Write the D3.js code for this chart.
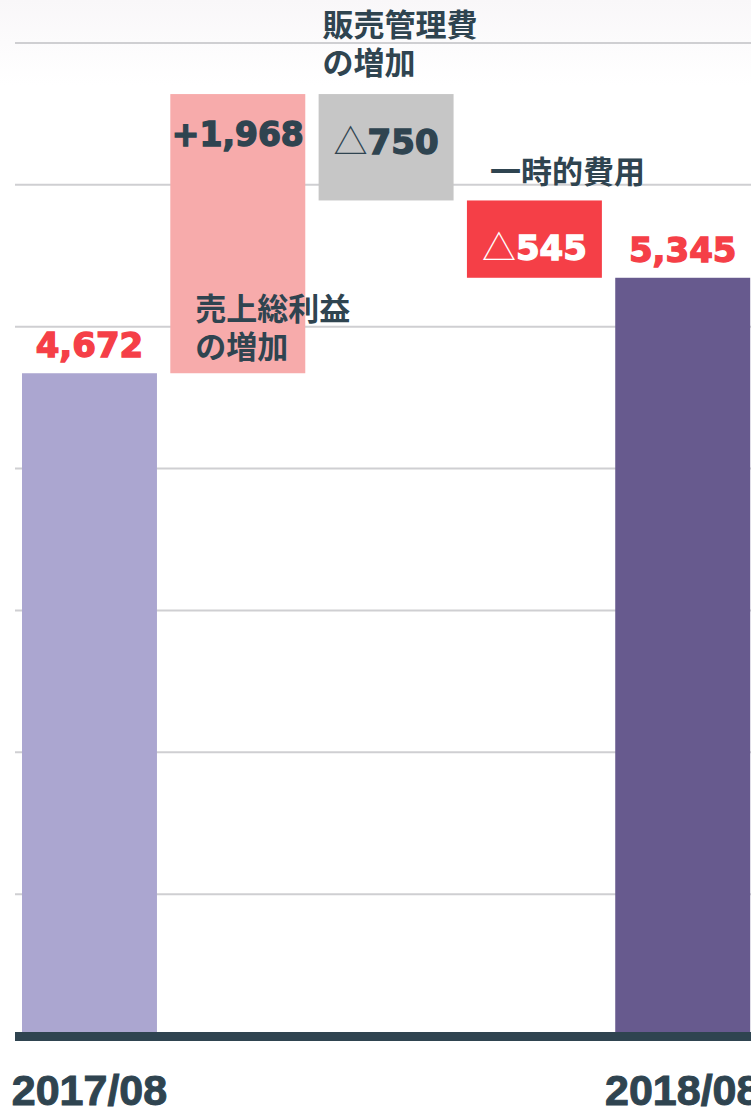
<!DOCTYPE html>
<html>
<head>
<meta charset="utf-8">
<script src="https://d3js.org/d3.v7.min.js"></script>
<style>
  html, body { margin: 0; padding: 0; background: #ffffff; }
  svg { display: block; }
</style>
</head>
<body>
<div id="chart"></div>
<script>
// Operating profit bridge 2017/08 -> 2018/08

const categories = ['2017/08', '売上総利益の増加', '販売管理費の増加', '一時的費用', '2018/08'];
const values = [4672, 1968, -750, -545, 5345];
const kinds = ['total', 'delta', 'delta', 'delta', 'total'];
const valueLabels = ['4,672', '+1,968', '△750', '△545', '5,345'];
const axisLabels = ['2017/08', '', '', '', '2018/08'];
const annotationLines = [
    [],
    ['売上総利益', 'の増加'],
    ['販売管理費', 'の増加'],
    ['一時的費用'],
    []
];
const yTicks = [1000, 2000, 3000, 4000, 5000, 6000, 7000];

const width = 751;
const height = 1109;

const barColors = ['#aba6d0', '#f7abab', '#c6c6c6', '#f53f47', '#675a8e'];
const labelColors = ['#f53f47', '#2f4450', '#2f4450', '#ffffff', '#f53f47'];
const darkText = '#2f4450';

// Build running totals for the waterfall
let running = 0;
const bars = categories.map((c, i) => {
    let y0, y1;
    if (kinds[i] === 'total') {
        y0 = 0;
        y1 = values[i];
        running = values[i];
    } else {
        y0 = running;
        y1 = running + values[i];
        running = y1;
    }
    return {
        cat: c,
        value: values[i],
        low: Math.min(y0, y1),
        high: Math.max(y0, y1),
        kind: kinds[i],
        index: i
    };
});

const svg = d3.select('#chart').append('svg')
    .attr('width', width)
    .attr('height', height);

// faint background wash at the top
const defs = svg.append('defs');
const wash = defs.append('linearGradient')
    .attr('id', 'topWash')
    .attr('x1', '0%').attr('x2', '0%')
    .attr('y1', '0%').attr('y2', '100%');
wash.append('stop').attr('offset', '0%').attr('stop-color', '#f9f7f9');
wash.append('stop').attr('offset', '100%').attr('stop-color', '#ffffff');

svg.append('rect')
    .attr('x', 0).attr('y', 0)
    .attr('width', width).attr('height', 85)
    .attr('fill', 'url(#topWash)');

// Scales
const x = d3.scaleBand()
    .domain(categories)
    .range([22, 750.2])
    .paddingInner(0.09)
    .paddingOuter(0);

const y = d3.scaleLinear()
    .domain([0, 7000])
    .range([1036, 43]);

// Gridlines
svg.append('g')
    .attr('class', 'grid')
    .selectAll('line')
    .data(yTicks)
    .join('line')
    .attr('x1', 15)
    .attr('x2', width)
    .attr('y1', d => y(d))
    .attr('y2', d => y(d))
    .attr('stroke', '#cfcfd2')
    .attr('stroke-width', 2);

// Bars
svg.append('g')
    .selectAll('rect')
    .data(bars)
    .join('rect')
    .attr('x', d => x(d.cat))
    .attr('width', x.bandwidth())
    .attr('y', d => y(d.high))
    .attr('height', d => y(d.low) - y(d.high))
    .attr('fill', d => barColors[d.index]);

// Baseline axis bar
svg.append('line')
    .attr('x1', 15)
    .attr('x2', width)
    .attr('y1', y(0) + 0.5)
    .attr('y2', y(0) + 0.5)
    .attr('stroke', darkText)
    .attr('stroke-width', 9);

// Category labels on the axis
svg.append('g')
    .selectAll('text')
    .data(bars.filter(d => axisLabels[d.index] !== ''))
    .join('text')
    .attr('x', d => x(d.cat) + x.bandwidth() / 2)
    .attr('y', 1105)
    .attr('text-anchor', 'middle')
    .style('font-family', '"Liberation Sans", Arial, sans-serif')
    .style('font-weight', '700')
    .style('font-size', '43px')
    .style('fill', darkText)
    .style('stroke', darkText)
    .style('stroke-width', '1px')
    .text(d => axisLabels[d.index]);

// Value labels
const valueG = svg.append('g');
bars.forEach(d => {
    const cx = x(d.cat) + x.bandwidth() / 2;
    let ty;
    if (d.kind === 'total') ty = y(d.high) - 16;
    else if (d.value > 0) ty = y(d.high) + 52;
    else ty = y(d.high) + 60;

    const label = valueLabels[d.index];
    const t = valueG.append('text')
        .attr('x', cx)
        .attr('y', ty)
        .attr('text-anchor', 'middle')
        .style('font-family', '"DejaVu Sans", sans-serif')
        .style('font-weight', '700')
        .style('font-size', d.value > 0 && d.kind === 'delta' ? '33px' : '34px')
        .style('fill', labelColors[d.index]);

    if (label.startsWith('△')) {
        t.append('tspan')
            .style('font-family', '"Noto Sans CJK JP", sans-serif')
            .style('font-weight', '400')
            .text('△');
        t.append('tspan')
            .style('stroke', labelColors[d.index])
            .style('stroke-width', '1.4px')
            .text(label.slice(1));
    } else {
        t.style('stroke', labelColors[d.index])
            .style('stroke-width', '1.4px')
            .text(label);
    }
});

// Category annotations for the movement bars
const annoOffset = { 1: [25, 320], 2: [4, 36], 3: [23, 183] };
const annoG = svg.append('g');
bars.forEach(d => {
    const lines = annotationLines[d.index];
    if (!lines.length) return;
    const [dx, by] = annoOffset[d.index];
    const t = annoG.append('text')
        .attr('x', x(d.cat) + dx)
        .attr('y', by)
        .style('font-family', '"Noto Sans CJK JP", sans-serif')
        .style('font-weight', '700')
        .style('font-size', '31px')
        .style('fill', darkText);
    lines.forEach((line, j) => {
        t.append('tspan')
            .attr('x', x(d.cat) + dx)
            .attr('dy', j === 0 ? 0 : 38)
            .text(line);
    });
});
</script>
</body>
</html>
